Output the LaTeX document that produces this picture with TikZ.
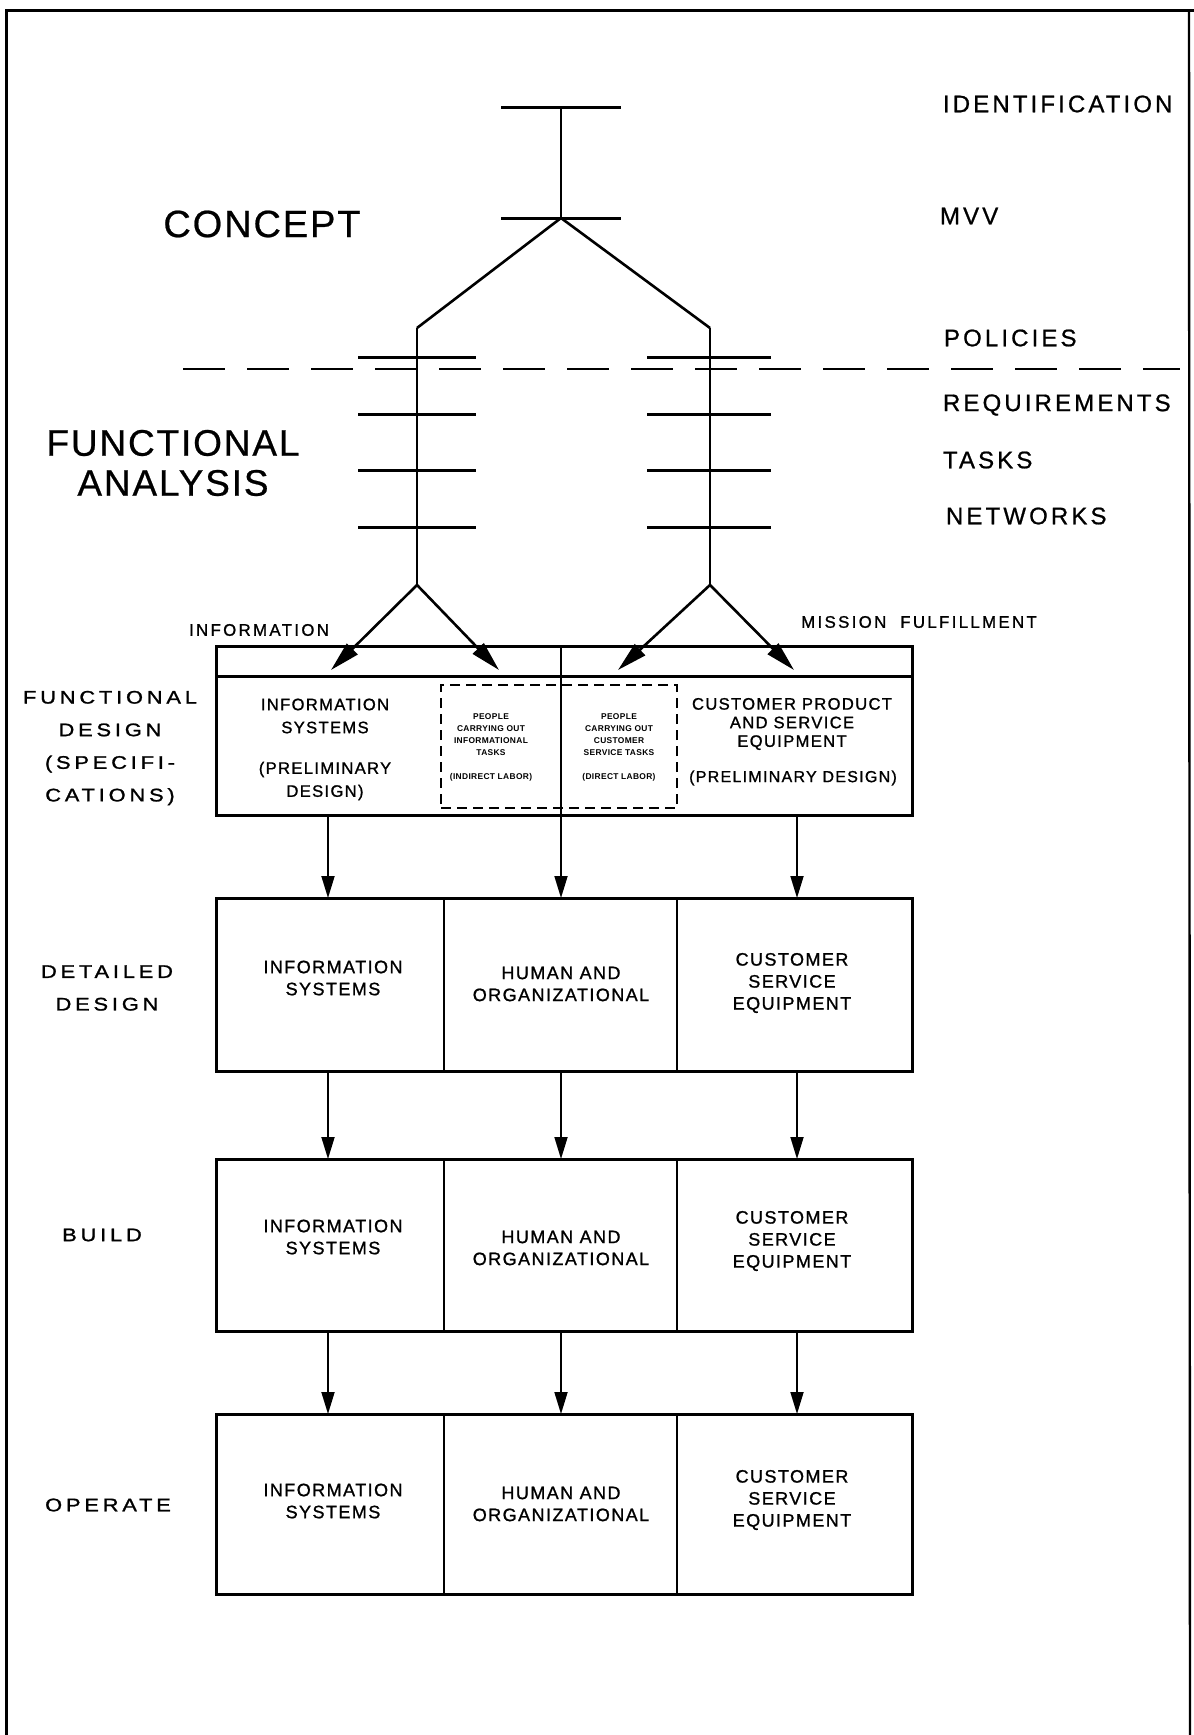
\documentclass[tikz,border=0pt]{standalone}
\usepackage{fontspec}
\setmainfont{Liberation Sans}
% lettering families: tracked sans in several widths and weights
\newfontfamily\headfont[LetterSpace=5,FakeBold=0.6]{Liberation Sans}
\newfontfamily\levelfont[LetterSpace=13,FakeBold=0.8]{Liberation Sans}
\newfontfamily\stagefont[FakeStretch=1.2,LetterSpace=21,FakeBold=1.3]{Liberation Sans}
\newfontfamily\cellfont[LetterSpace=8,FakeBold=1.1]{Liberation Sans}
\newfontfamily\flowfont[LetterSpace=14,FakeBold=1.1]{Liberation Sans}
\newfontfamily\notefont[LetterSpace=4]{Liberation Sans}
\usetikzlibrary{arrows.meta}

\begin{document}
\begin{tikzpicture}[x=0.5pt,y=-0.5pt,
  every node/.style={inner sep=0pt, outer sep=0pt},
  head/.style={font=\headfont\fontsize{19}{20}\selectfont, align=center},
  level/.style={font=\levelfont\fontsize{12}{14}\selectfont, anchor=west},
  stage/.style={font=\stagefont\fontsize{9.1}{16.3}\selectfont, align=center},
  cell/.style={font=\cellfont\fontsize{9}{11}\selectfont, align=center},
  spec/.style={font=\cellfont\fontsize{8.3}{11.5}\selectfont, align=center},
  flow/.style={font=\flowfont\fontsize{8.4}{10}\selectfont},
  note/.style={font=\notefont\bfseries\fontsize{4.2}{6}\selectfont, align=center},
  phasebox/.style={draw, line width=1.5pt, minimum width=348pt},
  divider/.style={line width=0.9pt},
  bar/.style={line width=1.5pt},
  stem/.style={line width=0.8pt},
  branch/.style={line width=1.3pt},
  fork/.style={line width=1.3pt, -{Triangle[length=15pt,width=7.5pt]}},
  down/.style={line width=0.9pt, -{Triangle[length=11pt,width=6.5pt]}},
]
\useasboundingbox (0,0) rectangle (1194,1735);

% page frame
\draw[line width=1.5pt] (6,1735) -- (6,10) -- (1194,10);
\draw[line width=1.2pt] (1189,10) -- (1190,1735);

% ---- concept / analysis tree
\coordinate (top) at (561,107);
\coordinate (mvv) at (561,218);
\coordinate (splitL) at (417,328);
\coordinate (splitR) at (710,328);
\coordinate (forkL) at (417,585);
\coordinate (forkR) at (710,585);

\draw[stem] (top) -- (mvv);
\draw[bar] (top) ++(-60,0) -- ++(120,0);
\draw[bar] (mvv) ++(-60,0) -- ++(120,0);
\draw[branch] (splitL) -- (mvv) -- (splitR);
\draw[stem] (splitL) -- (forkL);
\draw[stem] (splitR) -- (forkR);
\foreach \y in {357,414,470,527} {
  \draw[bar] (forkL |- 0,\y) ++(-59,0) -- ++(118,0);
  \draw[bar] (forkR |- 0,\y) ++(-63,0) -- ++(124,0);
}

% boundary between concept and functional analysis
\coordinate (divL) at (183,369);
\coordinate (divR) at (1180,369);
\draw[line width=1.4pt, dash pattern=on 21pt off 11pt] (divL) -- (divR);

% level names
\node[level] (lid)  at (943,104) {IDENTIFICATION};
\node[level] (lmvv) at (940,216) {MVV};
\node[level] (lpol) at (944,338) {POLICIES};
\node[level] (lreq) at (943,405) {REQUIREMENTS};
\node[level] (ltsk) at (943,460) {TASKS};
\node[level] (lnet) at (946,516) {NETWORKS};

% phase names
\node[head] (concept) at (262,224) {CONCEPT};
\node[head, font=\headfont\fontsize{18.5}{20}\selectfont] (fanalysis) at (173,463) {FUNCTIONAL\\ANALYSIS};
\node[stage] (sfd) at (110,748) {FUNCTIONAL\\DESIGN\\(SPECIFI-\\CATIONS)};
\node[stage] (sdd) at (107,988) {DETAILED\\DESIGN};
\node[stage] (sbuild) at (102,1235) {BUILD};
\node[stage] (sop) at (108,1505) {OPERATE};

% ---- functional design
\node[phasebox, minimum height=84.5pt] (fd) at (564,730.5) {};
\coordinate (fdrule) at (0,676);
\coordinate (col1) at (328,0);
\coordinate (col2) at (561,0);
\coordinate (col3) at (797,0);
\coordinate (d1) at (444,0);
\coordinate (d2) at (677,0);
\draw[line width=1.5pt] (fd.west |- fdrule) -- (fd.east |- fdrule);
\draw[divider] (fd.north -| col2) -- (fd.south -| col2);

\node[draw, line width=1.2pt, dash pattern=on 5pt off 3pt,
      minimum width=118pt, minimum height=61.5pt] (people) at (559,746.5) {};

% branches into the functional design
\coordinate (tIS) at (331,670);
\coordinate (tIP) at (499,670);
\coordinate (tCP) at (618,670);
\coordinate (tCE) at (794,670);
\draw[fork] (forkL) -- (tIS);
\draw[fork] (forkL) -- (tIP);
\draw[fork] (forkR) -- (tCP);
\draw[fork] (forkR) -- (tCE);
\node[flow] (infoflow) at (259,630) {INFORMATION};
\node[flow] (missionflow) at (919,622) {MISSION\ \ FULFILLMENT};

\node[spec] (fdis) at (325,716) {INFORMATION\\SYSTEMS};
\node[spec] (fdisp) at (325,781) {(PRELIMINARY\\DESIGN)};
\node[spec, font=\cellfont\fontsize{8.3}{9.3}\selectfont] (fdce) at (792,724)
  {CUSTOMER PRODUCT\\AND SERVICE\\EQUIPMENT};
\node[spec, font=\cellfont\fontsize{8}{10}\selectfont] (fdcep) at (793,778) {(PRELIMINARY DESIGN)};
\node[note] (pind) at (491,735) {PEOPLE\\CARRYING OUT\\INFORMATIONAL\\TASKS};
\node[note] (pindl) at (491,777) {(INDIRECT LABOR)};
\node[note] (pdir) at (619,735) {PEOPLE\\CARRYING OUT\\CUSTOMER\\SERVICE TASKS};
\node[note] (pdirl) at (619,777) {(DIRECT LABOR)};

% ---- detailed design, build, operate
\node[phasebox, minimum height=86.5pt] (dd) at (564,984.5) {};
\node[phasebox, minimum height=86pt] (bd) at (564,1245) {};
\node[phasebox, minimum height=90pt] (op) at (564,1504) {};
\foreach \b in {dd,bd,op} {
  \draw[divider] (\b.north -| d1) -- (\b.south -| d1);
  \draw[divider] (\b.north -| d2) -- (\b.south -| d2);
}
\foreach \c in {col1,col2,col3} {
  \draw[down] (fd.south -| \c) -- (dd.north -| \c);
  \draw[down] (dd.south -| \c) -- (bd.north -| \c);
  \draw[down] (bd.south -| \c) -- (op.north -| \c);
}

\node[cell] (ddis) at (333,978)  {INFORMATION\\SYSTEMS};
\node[cell] (ddho) at (561,984)  {HUMAN AND\\ORGANIZATIONAL};
\node[cell] (ddce) at (792,983)  {CUSTOMER\\SERVICE\\EQUIPMENT};
\node[cell] (bdis) at (333,1237) {INFORMATION\\SYSTEMS};
\node[cell] (bdho) at (561,1248) {HUMAN AND\\ORGANIZATIONAL};
\node[cell] (bdce) at (792,1241) {CUSTOMER\\SERVICE\\EQUIPMENT};
\node[cell] (opis) at (333,1501) {INFORMATION\\SYSTEMS};
\node[cell] (opho) at (561,1504) {HUMAN AND\\ORGANIZATIONAL};
\node[cell] (opce) at (792,1500) {CUSTOMER\\SERVICE\\EQUIPMENT};
\end{tikzpicture}
\end{document}
